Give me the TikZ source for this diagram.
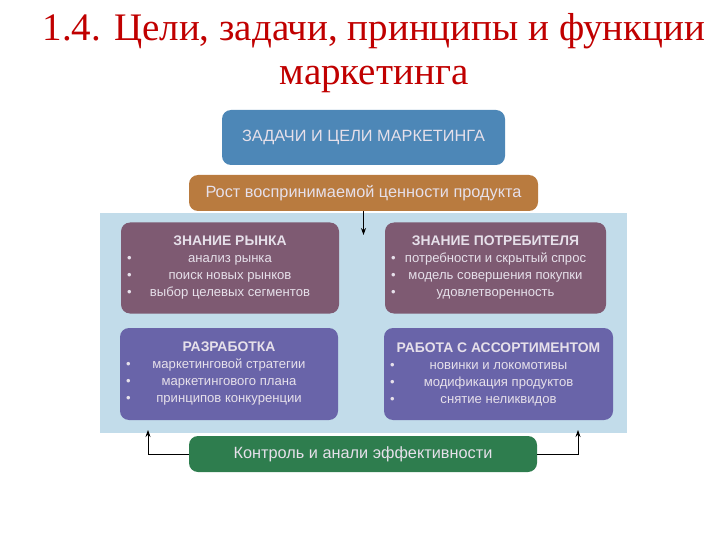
\documentclass[tikz,border=0pt]{standalone}
\usepackage{fontspec}
\setmainfont{Liberation Serif}
\newfontfamily\boxfont{Liberation Sans}
\usetikzlibrary{arrows.meta}

\definecolor{titlered}{HTML}{C00000}
\definecolor{taskblue}{HTML}{4D87B7}
\definecolor{growthbrown}{HTML}{B97B3F}
\definecolor{fieldblue}{HTML}{C2DCEA}
\definecolor{mauve}{HTML}{7E5A72}
\definecolor{violet}{HTML}{6964A9}
\definecolor{ctrlgreen}{HTML}{2E7D4E}
\definecolor{paletext}{HTML}{E6E0EA}

% one line of a box: bullet at the left, text in the middle
\newcommand{\itm}[2]{\makebox[#1pt]{\rlap{\textbullet}\hfill #2\hfill}}

\begin{document}
\begin{tikzpicture}[x=1pt, y=-1pt,
    panel/.style={rounded corners=9pt, inner sep=0pt, text=paletext, align=center,
                  font=\boxfont\fontsize{13.1}{17}\selectfont},
    banner/.style={panel, font=\boxfont\fontsize{16.3}{18}\selectfont},
    every path/.style={line width=0.8pt}]

\useasboundingbox (0,0) rectangle (720,540);

% Title
\node[text=titlered, font=\fontsize{39}{44}\selectfont, align=center] (title) at (374,53)
    {1.4. Цели, задачи, принципы и функции\\маркетинга};

% Top banners
\node[banner, fill=taskblue, minimum width=283, minimum height=55] (task) at (363.5,137.5)
    {ЗАДАЧИ И ЦЕЛИ МАРКЕТИНГА};
\node[banner, fill=growthbrown, minimum width=349, minimum height=36] (growth) at (363.5,193)
    {Рост воспринимаемой ценности продукта};

% Light background field
\node[fill=fieldblue, minimum width=527, minimum height=220, inner sep=0pt] (field) at (363.5,323) {};

% Four boxes
\node[panel, fill=mauve, minimum width=218, minimum height=91] (market) at (230,268)
    {\textbf{\fontsize{13.9}{17}\selectfont ЗНАНИЕ РЫНКА}\\
     \itm{206}{анализ рынка}\\ \itm{206}{поиск новых рынков}\\ \itm{206}{выбор целевых сегментов}};
\node[panel, fill=mauve, minimum width=221, minimum height=91] (consumer) at (495.5,268)
    {\textbf{\fontsize{13.9}{17}\selectfont ЗНАНИЕ ПОТРЕБИТЕЛЯ}\\
     \itm{209}{потребности и скрытый спрос}\\ \itm{209}{модель совершения покупки}\\ \itm{209}{удовлетворенность}};
\node[panel, fill=violet, minimum width=218, minimum height=92] (develop) at (229,374)
    {\textbf{\fontsize{13.9}{17}\selectfont РАЗРАБОТКА}\\
     \itm{206}{маркетинговой стратегии}\\ \itm{206}{маркетингового плана}\\ \itm{206}{принципов конкуренции}};
\node[panel, fill=violet, minimum width=229, minimum height=92] (assort) at (498.5,374)
    {\textbf{\fontsize{13.9}{17}\selectfont РАБОТА С АССОРТИМЕНТОМ}\\
     \itm{217}{новинки и локомотивы}\\ \itm{217}{модификация продуктов}\\ \itm{217}{снятие неликвидов}};

% Bottom banner
\node[banner, fill=ctrlgreen, minimum width=348, minimum height=36] (control) at (363,454)
    {Контроль и анали эффективности};

% Connectors
\coordinate (downtip) at (363.5,235);
\coordinate (lefttip) at (148,430);
\coordinate (righttip) at (578,430);
\draw[-{Stealth[length=7pt,width=5pt]}] (growth.south) -- (downtip);
\draw[-{Stealth[length=7pt,width=5pt]}] (control.west) -| (lefttip);
\draw[-{Stealth[length=7pt,width=5pt]}] (control.east) -| (righttip);

\end{tikzpicture}
\end{document}
